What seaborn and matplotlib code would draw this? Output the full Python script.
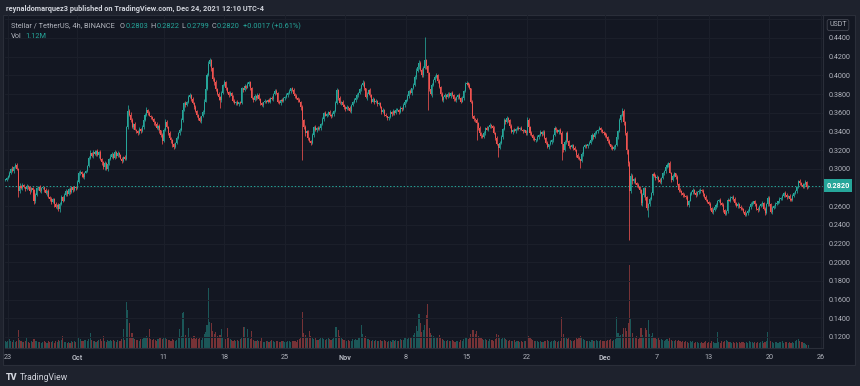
import numpy as np
import pandas as pd
import matplotlib
matplotlib.use('Agg')
import matplotlib.pyplot as plt
from matplotlib.patches import Rectangle
import seaborn as sns

# ---- values: XLM / USDT, 4h candles, Binance ----
# first candle opens 2021-09-22 16:00, one row per day, prices in 1/1000 USDT
start = '2021-09-22 16:00'
first_open = 288
closes = [
    "288 290",                       # Sep 22
    "292 296 300 298 302 304",       # Sep 23
    "300 276 282 279 283 280",
    "278 282 280 276 279 277",
    "266 272 279 281 276 279",
    "280 277 274 276 270 268",
    "264 268 262 259 261 257",
    "262 270 266 272 276 273",
    "278 275 280 277 281 279",       # Sep 30
    "286 295 297 294 291 296",       # Oct 1
    "298 303 312 317 314 318",
    "316 319 315 318 311 307",
    "302 306 300 305 311 313",
    "316 312 318 314 317 315",
    "311 308 313 310 345 362",
    "358 352 345 348 342 340",
    "338 343 340 345 352 358",
    "363 360 357 355 353 350",
    "348 344 346 341 336 330",       # Oct 10
    "342 350 345 338 333 331",
    "326 323 328 333 338 341",
    "352 363 370 368 372 377",
    "379 375 370 366 362 358",
    "354 351 356 361 372 385",
    "400 412 416 408 396 393",
    "385 380 377 374 381 390",
    "393 386 382 379 381 378",
    "373 370 372 369 371 370",
    "386 384 389 387 391 393",       # Oct 20
    "386 376 374 378 376 379",
    "375 370 368 371 373 372",
    "374 372 376 375 380 383",
    "381 372 370 374 373 376",
    "377 379 381 383 386 384",
    "380 378 376 374 372 366",
    "352 345 338 340 333 330",
    "328 336 345 341 344 343",
    "344 348 353 360 357 359",
    "361 358 356 359 362 370",       # Oct 30
    "384 376 370 372 368 366",
    "364 366 365 362 368 371",       # Nov 1
    "374 376 379 381 385 390",
    "392 386 377 380 384 379",
    "372 375 371 373 369 370",
    "366 361 363 358 356 354",
    "355 361 359 362 360 363",
    "363 361 365 364 368 372",
    "374 378 383 381 386 390",
    "398 405 409 413 406 400",
    "408 416 410 402 385 380",       # Nov 10
    "390 395 398 400 394 388",
    "380 374 377 379 377 380",
    "378 381 379 375 374 377",
    "379 376 372 376 383 391",
    "392 390 386 372 357 353",
    "352 349 344 338 335 334",
    "338 344 342 345 347 346",
    "344 338 333 326 322 328",
    "334 343 352 350 354 352",
    "346 339 342 340 343 344",       # Nov 20
    "343 344 342 340 341 338",
    "352 345 338 336 333 331",
    "331 334 336 339 337 339",
    "333 328 323 326 329 331",
    "336 344 341 339 342 338",
    "326 320 329 338 330 324",
    "323 325 322 320 315 312",
    "310 308 316 323 325 324",
    "326 328 331 336 334 338",
    "340 342 344 341 339 338",       # Nov 30
    "336 334 330 326 323 321",       # Dec 1
    "323 325 334 340 352 358",
    "362 350 338 320 306 276",
    "292 287 289 285 283 280",
    "277 263 272 279 270 258",
    "262 268 274 294 292 290",
    "291 288 286 290 295 298",
    "302 304 306 296 288 292",
    "295 291 284 277 276 274",
    "272 271 270 261 266 273",       # Dec 10
    "275 277 274 272 275 276",
    "277 276 273 270 267 264",
    "262 258 254 256 259 261",
    "265 267 263 261 256 252",
    "255 267 266 269 270 268",
    "263 260 262 259 258 257",
    "254 251 253 255 259 262",
    "263 265 262 257 256 260",
    "262 263 257 253 262 269",
    "262 254 258 260 262 263",       # Dec 20
    "265 268 269 271 274 272",
    "270 271 268 267 271 274",
    "276 280 287 285 283 281",
    "284 286 280.3 282",             # Dec 24
]

# wick lengths above / below the body, 1/1000 USDT, one digit per candle
wick_up = [
    "11", "121312", "213121", "121211", "122121", "112121", "211212", "221221", "121211",
    "232121", "112312", "212121", "121213", "212121", "121212", "232121", "121232", "312121",
    "121212", "232121", "121213", "232312", "212121", "121233", "233212", "212121", "212121",
    "121212", "212121", "121212", "212121", "121212", "212121", "121212", "212121", "212121",
    "121212", "212121", "121213", "312121", "121212", "212121", "321212", "121212", "212121",
    "121212", "212121", "121212", "232322", "222121", "212312", "121212", "212121", "121212",
    "212121", "121212", "212121", "121212", "212121", "121212", "212121", "321212", "121212",
    "212121", "121212", "212121", "121212", "212121", "121212", "212121", "121212", "212121",
    "221212", "321212", "212121", "121232", "212121", "121212", "212121", "121212", "121212",
    "212121", "121212", "212121", "121212", "212121", "121212", "212121", "121212", "212121",
    "121212", "212121", "121212", "1212",
]
wick_dn = [
    "11", "112121", "162121", "212312", "431212", "121312", "213122", "312112", "121212",
    "112312", "111212", "121323", "231212", "121212", "121112", "121212", "212121", "121213",
    "212324", "121213", "321212", "121212", "121213", "212121", "112323", "213921", "121212",
    "212121", "121212", "212121", "121212", "212121", "121212", "212121", "121213", "223121",
    "312121", "121212", "212121", "121212", "212121", "121212", "121312", "212121", "121212",
    "212121", "121212", "212121", "121212", "213221", "312121", "212121", "121212", "212121",
    "121232", "222121", "121212", "212111", "121212", "212121", "121212", "212121", "212121",
    "121212", "212121", "221212", "212121", "121212", "212121", "121212", "212121", "121212",
    "232432", "232121", "323232", "221212", "121212", "212121", "121212", "212121", "121212",
    "212121", "121212", "212121", "121212", "212121", "121212", "212121", "121212", "212121",
    "121212", "212121", "121212", "2121",
]
# long wicks that stick out of the pattern above
spike_high = {'2021-10-06 20:00': 368, '2021-10-16 08:00': 419, '2021-11-10 04:00': 441,
              '2021-12-03 00:00': 365, '2021-12-24 12:00': 282.2}
spike_low = {'2021-10-27 00:00': 309, '2021-11-10 12:00': 363, '2021-11-16 04:00': 331,
             '2021-11-18 16:00': 313, '2021-11-26 00:00': 309, '2021-11-28 04:00': 301,
             '2021-12-03 20:00': 224, '2021-12-06 00:00': 248, '2021-12-24 12:00': 279.9}

# volume per candle, units of 100k XLM
volume = [
    "28 24",
    "30 36 28 24 32 26", "30 72 34 28 24 26", "30 44 26 22 28 24", "36 30 28 24 26 22",
    "26 30 24 22 28 26", "24 28 22 30 26 32", "28 34 48 26 24 22", "24 22 28 26 30 24",
    "76 40 36 30 28 32", "34 30 36 60 32 28", "30 26 28 32 36 30", "48 30 26 32 28 34",
    "30 34 28 26 32 30", "28 36 76 32 184 152", "100 44 60 40 36 32", "34 30 38 36 40 44",
    "48 40 76 36 32 38", "34 30 36 40 44 38", "40 46 36 32 34 30", "36 32 30 34 40 76",
    "48 140 144 52 44 80", "44 40 36 48 38 42", "36 40 34 44 56 64", "92 240 104 100 68 56",
    "64 48 40 52 76 44", "40 36 80 44 38 34", "30 34 28 32 30 36", "40 84 84 44 76 40",
    "36 68 34 30 28 32", "30 28 44 26 24 30", "28 26 30 32 28 26", "30 28 26 24 28 30",
    "26 24 28 30 26 28", "30 28 26 32 36 44", "144 60 52 44 40 68", "48 44 36 40 34 32",
    "36 40 44 36 34 38", "40 36 32 36 44 84", "84 72 48 40 36 34", "32 30 34 28 30 36",
    "34 36 32 40 44 92", "56 44 48 38 36 32", "30 34 28 32 30 28", "32 30 28 34 30 26",
    "28 30 26 32 28 34", "30 28 36 32 34 40", "40 38 44 40 46 52", "60 88 70 136 100 64",
    "72 92 132 176 80 60", "52 48 44 40 44 52", "40 36 34 30 28 32", "30 28 34 30 26 28",
    "30 26 32 28 36 44", "40 38 44 56 72 72", "56 68 48 44 40 36", "34 38 32 30 36 32",
    "34 30 36 56 52 40", "36 40 44 38 32 30", "34 30 28 32 26 28", "30 26 28 24 30 28",
    "56 48 40 36 32 30", "28 30 26 28 24 26", "30 28 34 30 26 28", "28 32 30 26 28 30",
    "124 56 44 40 36 44", "32 28 30 34 40 36", "40 48 44 36 32 30", "28 30 26 32 28 30",
    "32 30 28 34 30 28", "30 28 34 32 36 30", "34 36 124 60 48 52", "56 80 80 68 100 332",
    "116 60 44 40 48 36", "40 80 52 44 80 72", "112 56 48 60 44 40", "36 40 34 38 32 30",
    "34 36 30 40 32 28", "30 32 28 34 30 26", "28 24 30 26 22 28", "24 28 22 26 24 20",
    "22 26 20 24 28 22", "26 22 28 24 20 22", "64 26 22 28 24 30", "32 28 24 26 22 24",
    "22 26 20 24 22 26", "24 20 26 22 28 24", "26 22 24 20 26 22", "24 28 22 26 30 64",
    "40 28 24 22 26 24", "22 26 24 28 22 26", "24 22 26 20 24 22", "28 32 36 28 24 26",
    "22 18 14 11.2",
]

price_ticks = [0.12, 0.14, 0.16, 0.18, 0.20, 0.22, 0.24, 0.26, 0.28, 0.30,
               0.32, 0.34, 0.36, 0.38, 0.40, 0.42, 0.44, 0.46]
hidden_ticks = [0.28, 0.46]   # covered by the price tag / currency box
date_ticks = ['2021-09-23', '2021-10-01', '2021-10-11', '2021-10-18', '2021-10-25',
              '2021-11-01', '2021-11-08', '2021-11-15', '2021-11-22', '2021-12-01',
              '2021-12-07', '2021-12-13', '2021-12-20', '2021-12-26']
date_labels = ['23', 'Oct', '11', '18', '25', 'Nov', '8', '15', '22', 'Dec', '7', '13', '20', '26']
last_price = 0.2820

TEAL = '#26a69a'
RED = '#ef5350'
BG = '#131722'
FRAME = '#1e222d'
LINE = '#2a2e39'
TXT = '#b2b5be'

# ---- build ohlc ----
close = np.array([float(v) for row in closes for v in row.split()]) / 1000
n = len(close)
up = np.array([int(c) for row in wick_up for c in row])[:n] / 1000
dn = np.array([int(c) for row in wick_dn for c in row])[:n] / 1000
vol = np.array([float(v) for row in volume for v in row.split()])[:n] / 10  # millions
opn = np.r_[first_open / 1000, close[:-1]]
times = pd.date_range(start, periods=n, freq='4h')
x = ((times - pd.Timestamp('2021-09-23')) / pd.Timedelta('1D')).values
high = np.maximum(opn, close) + up
low = np.minimum(opn, close) - dn
for k, v in spike_high.items():
    high[times.get_loc(pd.Timestamp(k))] = v / 1000
for k, v in spike_low.items():
    low[times.get_loc(pd.Timestamp(k))] = v / 1000
rising = close >= opn
colors = np.where(rising, TEAL, RED)

df = pd.DataFrame({'x': x, 'vol': vol, 'dir': np.where(rising, 'up', 'down')})

# ---- figure ----
sns.set_theme(style='dark', rc={'axes.facecolor': BG, 'figure.facecolor': FRAME})
plt.rcParams['font.family'] = ['Roboto', 'DejaVu Sans']

W, H = 860, 386
fig = plt.figure(figsize=(W / 100, H / 100), dpi=100)
fig.patches.append(Rectangle((3 / W, 21 / H), 852 / W, 350 / H, transform=fig.transFigure,
                             facecolor=BG, edgecolor=LINE, lw=0.8, zorder=-5))

rect = [5 / W, 38 / H, 818 / W, 333 / H]
ax_v = fig.add_axes(rect)
ax = fig.add_axes(rect)
for a in (ax_v, ax):
    a.patch.set_visible(False)
xlim = (-0.35, 94.2)

# volume pane
sns.barplot(data=df, x='x', y='vol', hue='dir', palette={'up': TEAL, 'down': RED},
            native_scale=True, dodge=False, errorbar=None, legend=False, saturation=1,
            alpha=0.45, linewidth=0, width=0.75, ax=ax_v)
ax_v.set_xlim(xlim)
ax_v.set_ylim(0, 133.2)
ax_v.set_axis_off()

# candles
ax.vlines(x, low, high, colors=colors, lw=0.55, zorder=3)
ax.bar(x, np.maximum(np.abs(close - opn), 0.0006), bottom=np.minimum(opn, close),
       width=0.72 / 6, color=colors, linewidth=0, zorder=4)
ax.axhline(last_price, color=TEAL, lw=0.7, ls=(0, (1.5, 2)), zorder=2)

ax.set_xlim(xlim)
ax.set_ylim(0.1082, 0.4646)
tick_x = [(pd.Timestamp(d) - pd.Timestamp('2021-09-23')) / pd.Timedelta('1D') for d in date_ticks]
ax.set_xticks(tick_x)
ax.set_xticklabels(date_labels)
for t in ax.get_xticklabels():
    if not t.get_text().isdigit():
        t.set_fontweight('bold')
ax.set_yticks(price_ticks)
ax.set_yticklabels(['' if v in hidden_ticks else f'{v:.4f}' for v in price_ticks])
ax.yaxis.tick_right()
ax.tick_params(axis='both', length=0, labelsize=5.2, labelcolor=TXT)
ax.tick_params(axis='x', pad=4.5)
ax.tick_params(axis='y', pad=4.3)
ax.grid(True, color='#1c202b', lw=0.7)
ax.set_axisbelow(True)
for side in ('top', 'left'):
    ax.spines[side].set_visible(False)
for side in ('right', 'bottom'):
    ax.spines[side].set_color(LINE)
    ax.spines[side].set_linewidth(0.8)
ax.set_xlabel('')
ax.set_ylabel('')

# price tag and currency box on the right axis
yfig = lambda p: (38 + (p - 0.1082) / (0.4646 - 0.1082) * 333) / H
fig.text(838 / W, yfig(last_price), f'{last_price:.4f}', color='white', fontsize=5.2,
         fontweight='bold', ha='center', va='center',
         bbox=dict(boxstyle='square,pad=0.35', facecolor=TEAL, edgecolor='none'))
fig.text(838 / W, 1 - 25 / H, 'USDT', color=TXT, fontsize=5, ha='center', va='center',
         bbox=dict(boxstyle='round,pad=0.3', facecolor=BG, edgecolor='#434651', lw=0.6))

# header and legend lines
fig.text(6 / W, 1 - 9 / H, 'reynaldomarquez3 published on TradingView.com, Dec 24, 2021 12:10 UTC-4',
         color='#d1d4dc', fontsize=5.3, fontweight='semibold', va='center')

renderer = fig.canvas.get_renderer()


def text_run(x0, y0, pieces, size):
    xpos = x0
    for s, col, gap in pieces:
        t = fig.text(xpos / W, 1 - y0 / H, s, color=col, fontsize=size, va='center')
        xpos += t.get_window_extent(renderer=renderer).width + gap


text_run(11, 26, [('Stellar / TetherUS, 4h, BINANCE', TXT, 5),
                  ('O', TXT, 0.5), ('0.2803', TEAL, 2.5),
                  ('H', TXT, 0.5), ('0.2822', TEAL, 2.5),
                  ('L', TXT, 0.5), ('0.2799', TEAL, 2.5),
                  ('C', TXT, 0.5), ('0.2820', TEAL, 3),
                  ('+0.0017 (+0.61%)', TEAL, 0)], 5.3)
text_run(11, 37, [('Vol', TXT, 4), ('1.12M', TEAL, 0)], 5.3)

# footer
fig.text(6 / W, 1 - 377 / H, 'TV', color='#d1d4dc', fontsize=6.5, fontweight='heavy', va='center')
fig.text(20 / W, 1 - 377 / H, 'TradingView', color='#d1d4dc', fontsize=6.2, va='center')

plt.savefig('out.png', dpi=100, facecolor=FRAME)
